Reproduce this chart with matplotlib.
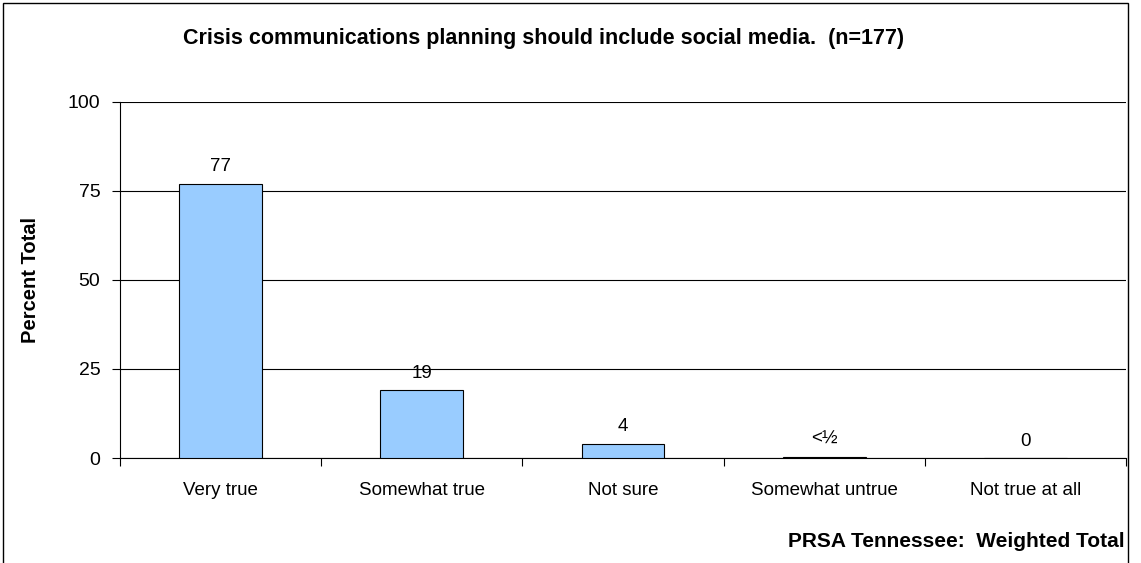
import numpy as np
import matplotlib.pyplot as plt
from matplotlib.patches import Rectangle

plt.rcParams['font.family'] = ['Liberation Sans', 'DejaVu Sans']

# data
categories = ['Very true', 'Somewhat true', 'Not sure', 'Somewhat untrue', 'Not true at all']
values = [77, 19, 4, 0.4, 0]
value_labels = ['77', '19', '4', '<\u00bd', '0']
yticks = [0, 25, 50, 75, 100]

fig = plt.figure(figsize=(11.41, 5.63), dpi=100)
ax = fig.add_axes([0.105, 0.1865, 0.882, 0.6325])

x = np.arange(len(categories))
ax.bar(x, values, width=0.41, color='#99CCFF', edgecolor='black', linewidth=0.8, zorder=3)

# value labels above the bars
for xi, v, lab in zip(x, values, value_labels):
    ax.annotate(lab, (xi, v), xytext=(0, 6), textcoords='offset points',
                ha='center', va='bottom', fontsize=13.5)

ax.set_xlim(-0.5, len(categories) - 0.5)
ax.set_ylim(0, 100)
ax.set_yticks(yticks)
ax.tick_params(axis='y', labelsize=14, length=6, width=0.8, pad=8)
ax.yaxis.grid(True, color='black', linewidth=0.8, zorder=0)

# category labels centred, ticks between categories
ax.set_xticks(x)
ax.set_xticklabels(categories, fontsize=13.5)
ax.tick_params(axis='x', length=0, pad=17)
ax.set_xticks(np.arange(len(categories) + 1) - 0.5, minor=True)
ax.tick_params(axis='x', which='minor', length=6, width=0.8)

for s in ['top', 'right']:
    ax.spines[s].set_visible(False)
ax.spines['left'].set_linewidth(0.8)
ax.spines['bottom'].set_linewidth(0.8)

fig.text(30 / 1141, 0.5025, 'Percent Total', rotation=90, ha='center', va='center',
         fontsize=14.5, fontweight='bold')

fig.text(544 / 1141, 0.931, 'Crisis communications planning should include social media.  (n=177)',
         ha='center', va='center', fontsize=15.5, fontweight='bold')
fig.text(0.986, 0.039, 'PRSA Tennessee:  Weighted Total', ha='right', va='center',
         fontsize=15, fontweight='bold')

# outer frame
fig.patches.append(Rectangle((3 / 1141, -0.05), 1125 / 1141, 1 - 3 / 563 + 0.05,
                             transform=fig.transFigure, fill=False,
                             edgecolor='black', linewidth=1))

fig.savefig('out.png', dpi=100)
